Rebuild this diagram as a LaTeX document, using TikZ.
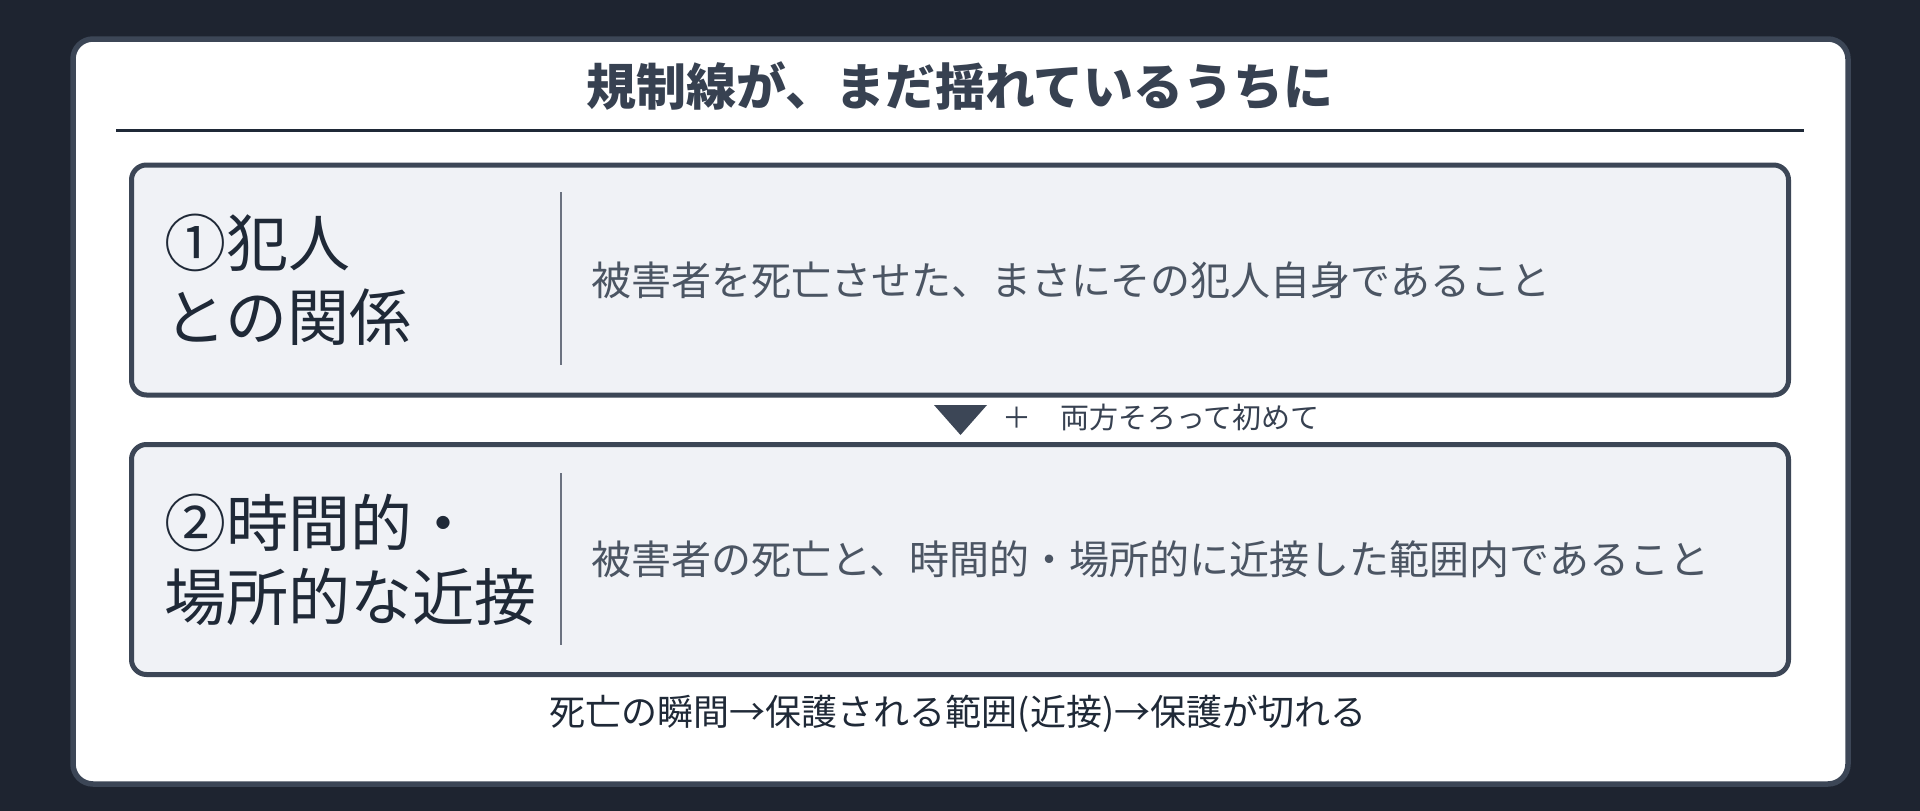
\documentclass[tikz,border=0pt]{standalone}
\usepackage{fontspec}
\setmainfont{Noto Sans CJK JP}
\usetikzlibrary{positioning}
\definecolor{bgdark}{HTML}{1E2430}
\definecolor{slateline}{HTML}{3C4656}
\definecolor{boxfill}{HTML}{F0F2F6}
\definecolor{inkdark}{HTML}{1F2937}
\definecolor{inkmid}{HTML}{374151}
\definecolor{inkgray}{HTML}{4B5563}
\definecolor{rulegray}{HTML}{6B7280}
\begin{document}
\begin{tikzpicture}[x=1pt,y=-1pt,
    card/.style={draw=slateline, line width=5.5pt, fill=white, rounded corners=20pt,
        minimum width=1775pt, minimum height=745pt, inner sep=0pt},
    condbox/.style={draw=slateline, line width=5pt, fill=boxfill, rounded corners=15pt,
        minimum width=1657pt, minimum height=230pt, inner sep=0pt},
    condname/.style={anchor=west, align=left, text=inkdark, inner sep=0pt,
        font=\fontsize{62}{74}\selectfont},
    condtext/.style={anchor=west, text=inkgray, inner sep=0pt,
        font=\fontsize{40}{48}\selectfont},
    divider/.style={draw=rulegray, line width=2.5pt}]
    \fill[bgdark] (0,0) rectangle (1920,811);
    \useasboundingbox (0,0) rectangle (1920,811);

    \node[card] (card) at (960.5,411.5) {};
    \node[text=inkmid, font=\fontsize{50}{60}\selectfont\bfseries] (title) at (960,86)
        {規制線が、まだ揺れているうちに};
    \coordinate (ruleL) at (116,130.5);
    \coordinate (ruleR) at (1804,130.5);
    \draw[inkdark, line width=2.5pt] (ruleL) -- (ruleR);

    % first condition
    \node[condbox] (boxA) at (960,280) {};
    \node[condname] (nameA) at ([xshift=35pt]boxA.west) {①犯人\\との関係};
    \coordinate (divAtop) at (561,192);
    \coordinate (divAbot) at (561,365);
    \draw[divider] (divAtop) -- (divAbot);
    \node[condtext] (textA) at (591,280) {被害者を死亡させた、まさにその犯人自身であること};

    % joint
    \fill[slateline] (934,405) -- (987,405) -- (960.5,435) -- cycle;
    \node[anchor=west, inner sep=0pt, text=inkmid, font=\fontsize{29}{34}\selectfont]
        (joint) at (1002,417) {＋\hspace{29pt}両方そろって初めて};

    % second condition
    \node[condbox] (boxB) at (960,559.5) {};
    \node[condname] (nameB) at ([xshift=35pt]boxB.west) {②時間的・\\場所的な近接};
    \coordinate (divBtop) at (561,473);
    \coordinate (divBbot) at (561,645);
    \draw[divider] (divBtop) -- (divBbot);
    \node[condtext] (textB) at (591,559.5) {被害者の死亡と、時間的・場所的に近接した範囲内であること};

    \node[text=inkdark, font=\fontsize{36}{42}\selectfont] (caption) at (958,714)
        {死亡の瞬間→保護される範囲(近接)→保護が切れる};
\end{tikzpicture}
\end{document}
